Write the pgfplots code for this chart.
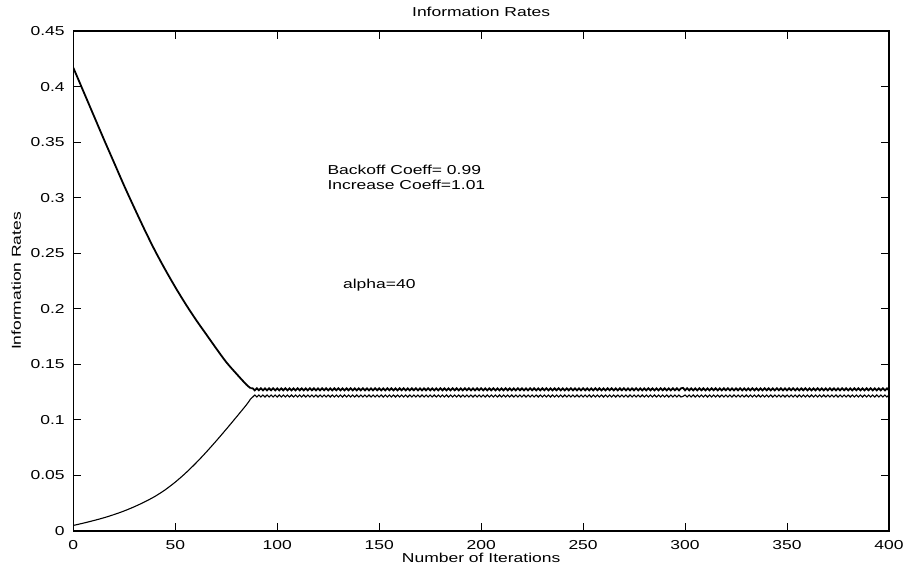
\documentclass[border=0pt]{standalone}
\usepackage{fontspec}
\setmainfont{Liberation Sans}[FakeStretch=1.35]
\usepackage{pgfplots}
\pgfplotsset{compat=1.18}
\newcommand\lbl{\fontsize{6.5}{7.5}\selectfont}
\begin{document}
\begin{tikzpicture}
\begin{axis}[
    name=ax,
    scale only axis,
    width=407.85bp, height=250bp,
    xmin=0, xmax=400, ymin=0, ymax=0.45,
    xtick={0,50,100,150,200,250,300,350,400},
    ytick={0,0.05,0.1,0.15,0.2,0.25,0.3,0.35,0.4,0.45},
    yticklabels={0,0.05,0.1,0.15,0.2,0.25,0.3,0.35,0.4,0.45},
    tick align=inside, tick pos=both,
    major tick length=4bp,
    axis line style={line width=0.8bp},
    every tick/.style={black, line width=0.5bp},
    tick label style={font=\lbl},
    xticklabel style={yshift=-1.3bp},
    yticklabel style={xshift=-0.8bp},
    /pgf/number format/assume math mode=true,
]
% upper rate, backoff phase
\addplot[black, line width=0.9bp, smooth] coordinates {
(0,.417)(5,.3955)(10,.374)(15,.3525)(20,.3315)(25,.3105)(30,.2905)(35,.271)(40,.2525)(45,.2355)
(50,.2195)(55,.2045)(60,.1905)(65,.1775)(70,.1645)(75,.152)(80,.1415)(85,.1315)(87,.1285)
};
% upper rate, steady state
\addplot[black, line width=0.9bp] coordinates {
(87,.1285)
(88,.1284)(89,.1266)(90,.1284)(91,.1266)(92,.1284)(93,.1266)(94,.1284)(95,.1266)(96,.1284)(97,.1266)
(98,.1284)(99,.1266)(100,.1284)(101,.1266)(102,.1284)(103,.1266)(104,.1284)(105,.1266)(106,.1284)(107,.1266)
(108,.1284)(109,.1266)(110,.1284)(111,.1266)(112,.1284)(113,.1266)(114,.1284)(115,.1266)(116,.1284)(117,.1266)
(118,.1284)(119,.1266)(120,.1284)(121,.1266)(122,.1284)(123,.1266)(124,.1284)(125,.1266)(126,.1284)(127,.1266)
(128,.1284)(129,.1266)(130,.1284)(131,.1266)(132,.1284)(133,.1266)(134,.1284)(135,.1266)(136,.1284)(137,.1266)
(138,.1284)(139,.1266)(140,.1284)(141,.1266)(142,.1284)(143,.1266)(144,.1284)(145,.1266)(146,.1284)(147,.1266)
(148,.1284)(149,.1266)(150,.1284)(151,.1266)(152,.1284)(153,.1266)(154,.1284)(155,.1266)(156,.1284)(157,.1266)
(158,.1284)(159,.1266)(160,.1284)(161,.1266)(162,.1284)(163,.1266)(164,.1284)(165,.1266)(166,.1284)(167,.1266)
(168,.1284)(169,.1266)(170,.1284)(171,.1266)(172,.1284)(173,.1266)(174,.1284)(175,.1266)(176,.1284)(177,.1266)
(178,.1284)(179,.1266)(180,.1284)(181,.1266)(182,.1284)(183,.1266)(184,.1284)(185,.1266)(186,.1284)(187,.1266)
(188,.1284)(189,.1266)(190,.1284)(191,.1266)(192,.1284)(193,.1266)(194,.1284)(195,.1266)(196,.1284)(197,.1266)
(198,.1284)(199,.1266)(200,.1284)(201,.1266)(202,.1284)(203,.1266)(204,.1284)(205,.1266)(206,.1284)(207,.1266)
(208,.1284)(209,.1266)(210,.1284)(211,.1266)(212,.1284)(213,.1266)(214,.1284)(215,.1266)(216,.1284)(217,.1266)
(218,.1284)(219,.1266)(220,.1284)(221,.1266)(222,.1284)(223,.1266)(224,.1284)(225,.1266)(226,.1284)(227,.1266)
(228,.1284)(229,.1266)(230,.1284)(231,.1266)(232,.1284)(233,.1266)(234,.1284)(235,.1266)(236,.1284)(237,.1266)
(238,.1284)(239,.1266)(240,.1284)(241,.1266)(242,.1284)(243,.1266)(244,.1284)(245,.1266)(246,.1284)(247,.1266)
(248,.1284)(249,.1266)(250,.1284)(251,.1266)(252,.1284)(253,.1266)(254,.1284)(255,.1266)(256,.1284)(257,.1266)
(258,.1284)(259,.1266)(260,.1284)(261,.1266)(262,.1284)(263,.1266)(264,.1284)(265,.1266)(266,.1284)(267,.1266)
(268,.1284)(269,.1266)(270,.1284)(271,.1266)(272,.1284)(273,.1266)(274,.1284)(275,.1266)(276,.1284)(277,.1266)
(278,.1284)(279,.1266)(280,.1284)(281,.1266)(282,.1284)(283,.1266)(284,.1284)(285,.1266)(286,.1284)(287,.1266)
(288,.1284)(289,.1266)(290,.1284)(291,.1266)(292,.1284)(293,.1266)(294,.1284)(295,.1266)(296,.1284)(297,.1266)
(298,.1284)(299,.1288)
(300,.1266)(301,.1284)(302,.1266)(303,.1284)(304,.1266)(305,.1284)(306,.1266)(307,.1284)(308,.1266)(309,.1284)
(310,.1266)(311,.1284)(312,.1266)(313,.1284)(314,.1266)(315,.1284)(316,.1266)(317,.1284)(318,.1266)(319,.1284)
(320,.1266)(321,.1284)(322,.1266)(323,.1284)(324,.1266)(325,.1284)(326,.1266)(327,.1284)(328,.1266)(329,.1284)
(330,.1266)(331,.1284)(332,.1266)(333,.1284)(334,.1266)(335,.1284)(336,.1266)(337,.1284)(338,.1266)(339,.1284)
(340,.1266)(341,.1284)(342,.1266)(343,.1284)(344,.1266)(345,.1284)(346,.1266)(347,.1284)(348,.1266)(349,.1284)
(350,.1266)(351,.1284)(352,.1266)(353,.1284)(354,.1266)(355,.1284)(356,.1266)(357,.1284)(358,.1266)(359,.1284)
(360,.1266)(361,.1284)(362,.1266)(363,.1284)(364,.1266)(365,.1284)(366,.1266)(367,.1284)(368,.1266)(369,.1284)
(370,.1266)(371,.1284)(372,.1266)(373,.1284)(374,.1266)(375,.1284)(376,.1266)(377,.1284)(378,.1266)(379,.1284)
(380,.1266)(381,.1284)(382,.1266)(383,.1284)(384,.1266)(385,.1284)(386,.1266)(387,.1284)(388,.1266)(389,.1284)
(390,.1266)(391,.1284)(392,.1266)(393,.1284)(394,.1266)(395,.1284)(396,.1266)(397,.1284)(398,.1266)(399,.1284)
(400,.1266)
};
% lower rate, increase phase
\addplot[black, line width=0.55bp, smooth] coordinates {
(0,.005)(5,.0071)(10,.0094)(15,.0119)(20,.0148)(25,.0181)(30,.0219)(35,.0262)(40,.0311)(45,.037)
(50,.044)(55,.052)(60,.0609)(65,.0706)(70,.0809)(75,.0916)(80,.1026)(85,.1138)(87,.119)
};
% lower rate, steady state
\addplot[black, line width=0.55bp] coordinates {
(87,.119)
(88,.1206)(89,.1224)(90,.1206)(91,.1224)(92,.1206)(93,.1224)(94,.1206)(95,.1224)(96,.1206)(97,.1224)
(98,.1206)(99,.1224)(100,.1206)(101,.1224)(102,.1206)(103,.1224)(104,.1206)(105,.1224)(106,.1206)(107,.1224)
(108,.1206)(109,.1224)(110,.1206)(111,.1224)(112,.1206)(113,.1224)(114,.1206)(115,.1224)(116,.1206)(117,.1224)
(118,.1206)(119,.1224)(120,.1206)(121,.1224)(122,.1206)(123,.1224)(124,.1206)(125,.1224)(126,.1206)(127,.1224)
(128,.1206)(129,.1224)(130,.1206)(131,.1224)(132,.1206)(133,.1224)(134,.1206)(135,.1224)(136,.1206)(137,.1224)
(138,.1206)(139,.1224)(140,.1206)(141,.1224)(142,.1206)(143,.1224)(144,.1206)(145,.1224)(146,.1206)(147,.1224)
(148,.1206)(149,.1224)(150,.1206)(151,.1224)(152,.1206)(153,.1224)(154,.1206)(155,.1224)(156,.1206)(157,.1224)
(158,.1206)(159,.1224)(160,.1206)(161,.1224)(162,.1206)(163,.1224)(164,.1206)(165,.1224)(166,.1206)(167,.1224)
(168,.1206)(169,.1224)(170,.1206)(171,.1224)(172,.1206)(173,.1224)(174,.1206)(175,.1224)(176,.1206)(177,.1224)
(178,.1206)(179,.1224)(180,.1206)(181,.1224)(182,.1206)(183,.1224)(184,.1206)(185,.1224)(186,.1206)(187,.1224)
(188,.1206)(189,.1224)(190,.1206)(191,.1224)(192,.1206)(193,.1224)(194,.1206)(195,.1224)(196,.1206)(197,.1224)
(198,.1206)(199,.1224)(200,.1206)(201,.1224)(202,.1206)(203,.1224)(204,.1206)(205,.1224)(206,.1206)(207,.1224)
(208,.1206)(209,.1224)(210,.1206)(211,.1224)(212,.1206)(213,.1224)(214,.1206)(215,.1224)(216,.1206)(217,.1224)
(218,.1206)(219,.1224)(220,.1206)(221,.1224)(222,.1206)(223,.1224)(224,.1206)(225,.1224)(226,.1206)(227,.1224)
(228,.1206)(229,.1224)(230,.1206)(231,.1224)(232,.1206)(233,.1224)(234,.1206)(235,.1224)(236,.1206)(237,.1224)
(238,.1206)(239,.1224)(240,.1206)(241,.1224)(242,.1206)(243,.1224)(244,.1206)(245,.1224)(246,.1206)(247,.1224)
(248,.1206)(249,.1224)(250,.1206)(251,.1224)(252,.1206)(253,.1224)(254,.1206)(255,.1224)(256,.1206)(257,.1224)
(258,.1206)(259,.1224)(260,.1206)(261,.1224)(262,.1206)(263,.1224)(264,.1206)(265,.1224)(266,.1206)(267,.1224)
(268,.1206)(269,.1224)(270,.1206)(271,.1224)(272,.1206)(273,.1224)(274,.1206)(275,.1224)(276,.1206)(277,.1224)
(278,.1206)(279,.1224)(280,.1206)(281,.1224)(282,.1206)(283,.1224)(284,.1206)(285,.1224)(286,.1206)(287,.1224)
(288,.1206)(289,.1224)(290,.1206)(291,.1224)(292,.1206)(293,.1224)(294,.1206)(295,.1224)(296,.1206)(297,.1224)
(298,.1206)(299,.1212)
(300,.1224)(301,.1206)(302,.1224)(303,.1206)(304,.1224)(305,.1206)(306,.1224)(307,.1206)(308,.1224)(309,.1206)
(310,.1224)(311,.1206)(312,.1224)(313,.1206)(314,.1224)(315,.1206)(316,.1224)(317,.1206)(318,.1224)(319,.1206)
(320,.1224)(321,.1206)(322,.1224)(323,.1206)(324,.1224)(325,.1206)(326,.1224)(327,.1206)(328,.1224)(329,.1206)
(330,.1224)(331,.1206)(332,.1224)(333,.1206)(334,.1224)(335,.1206)(336,.1224)(337,.1206)(338,.1224)(339,.1206)
(340,.1224)(341,.1206)(342,.1224)(343,.1206)(344,.1224)(345,.1206)(346,.1224)(347,.1206)(348,.1224)(349,.1206)
(350,.1224)(351,.1206)(352,.1224)(353,.1206)(354,.1224)(355,.1206)(356,.1224)(357,.1206)(358,.1224)(359,.1206)
(360,.1224)(361,.1206)(362,.1224)(363,.1206)(364,.1224)(365,.1206)(366,.1224)(367,.1206)(368,.1224)(369,.1206)
(370,.1224)(371,.1206)(372,.1224)(373,.1206)(374,.1224)(375,.1206)(376,.1224)(377,.1206)(378,.1224)(379,.1206)
(380,.1224)(381,.1206)(382,.1224)(383,.1206)(384,.1224)(385,.1206)(386,.1224)(387,.1206)(388,.1224)(389,.1206)
(390,.1224)(391,.1206)(392,.1224)(393,.1206)(394,.1224)(395,.1206)(396,.1224)(397,.1206)(398,.1224)(399,.1206)
(400,.1224)
};
\node[font=\lbl, anchor=base west, inner sep=0pt] at (axis cs:124.5,0.3213) {Backoff Coeff= 0.99};
\node[font=\lbl, anchor=base west, inner sep=0pt] at (axis cs:124.5,0.3078) {Increase Coeff=1.01};
\node[font=\lbl, anchor=base west, inner sep=0pt] at (axis cs:132.1,0.2185) {alpha=40};
\end{axis}
\node[font=\lbl, yshift=9.5bp] at (ax.north) {Information Rates};
\node[font=\lbl, yshift=-13.5bp] at (ax.south) {Number of Iterations};
\path (ax.west) ++(-28.5bp,0) node[font=\lbl, rotate=90] {Information Rates};
\pgfresetboundingbox
\path[use as bounding box] ([shift={(-36.65bp,-19bp)}]ax.south west) rectangle ([shift={(9bp,15.5bp)}]ax.north east);
\end{tikzpicture}
\end{document}
